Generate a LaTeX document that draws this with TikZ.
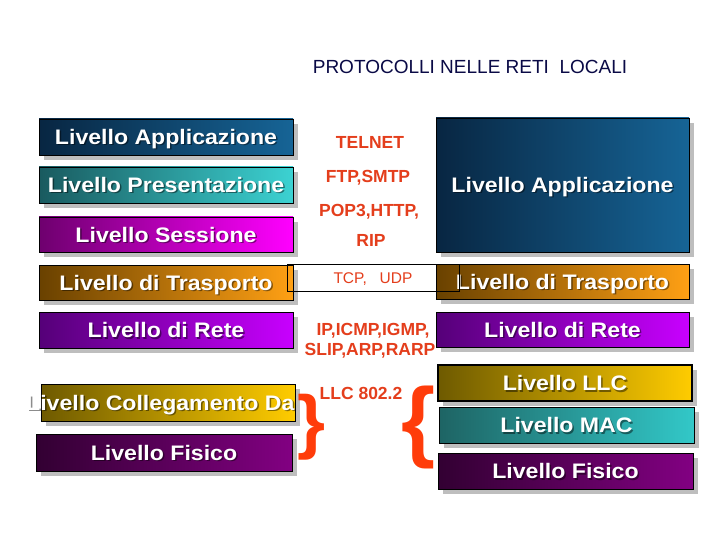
\documentclass[tikz,border=0pt]{standalone}
\usepackage{fontspec}
\setmainfont{Liberation Sans}
\newfontfamily\boxfont{Liberation Sans}[FakeStretch=1.1]
\definecolor{appL}{RGB}{8,38,66}\definecolor{appR}{RGB}{22,100,150}
\definecolor{preL}{RGB}{25,90,95}\definecolor{preR}{RGB}{60,210,210}
\definecolor{sesL}{RGB}{110,0,110}\definecolor{sesR}{RGB}{255,0,255}
\definecolor{traL}{RGB}{105,65,0}\definecolor{traR}{RGB}{255,160,20}
\definecolor{retL}{RGB}{85,0,120}\definecolor{retR}{RGB}{200,0,255}
\definecolor{colL}{RGB}{110,90,0}\definecolor{colR}{RGB}{255,204,0}
\definecolor{fisL}{RGB}{50,0,50}\definecolor{fisR}{RGB}{130,0,130}
\definecolor{macL}{RGB}{30,100,100}\definecolor{macR}{RGB}{50,200,200}
\definecolor{proto}{RGB}{228,62,28}
\definecolor{bracec}{RGB}{255,60,10}
\definecolor{titlec}{RGB}{10,10,70}
\definecolor{shadowc}{RGB}{190,190,190}
\tikzset{
  layerbox/.style={draw=black, line width=0.9pt, inner sep=0, outer sep=0},
  boxtxt/.style={inner sep=0, text=white, font=\boxfont\fontsize{21}{25}\selectfont\bfseries, text height=15, text depth=0},
  boxshd/.style={boxtxt, text=black, opacity=.45},
  prototxt/.style={inner sep=0, anchor=base, text=proto, font=\fontsize{17.5}{21}\selectfont\bfseries},
}
% name, x1, y1, x2, y2, left colour, right colour, text, extra options
\newcommand\mylayer[9]{%
  \fill[shadowc] ({#2+5},{#3+5}) rectangle ({#4+5},{#5+5});
  \node[layerbox, minimum width={#4-#2}, minimum height={#5-#3}, left color=#6, right color=#7, #9] (#1) at ({(#2+#4)/2},{(#3+#5)/2}) {};
  \node[boxshd] (#1s) at ([shift={(1.5,1.5)}]#1.center) {#8};
  \node[boxtxt] (#1t) at (#1.center) {#8};
}
\begin{document}
\begin{tikzpicture}[x=1pt,y=-1pt]
\useasboundingbox (0,0) rectangle (720,540);
\fill[white] (0,0) rectangle (720,540);

\node[inner sep=0, anchor=base, text=titlec, font=\fontsize{19}{23}\selectfont] (title) at (470,74) {PROTOCOLLI NELLE RETI\ \ LOCALI};

% left stack
\mylayer{lapp}{39}{119}{293}{155}{appL}{appR}{Livello Applicazione}{}
\mylayer{lpre}{39}{167}{293}{203}{preL}{preR}{Livello Presentazione}{}
\mylayer{lses}{39}{217}{293}{252}{sesL}{sesR}{Livello Sessione}{}
\mylayer{ltra}{39}{265}{293}{300}{traL}{traR}{Livello di Trasporto}{}
\mylayer{lret}{39}{312}{293}{348}{retL}{retR}{Livello di Rete}{}
\fill[shadowc] (46,389) rectangle (300,426);
\node[layerbox, minimum width=254, minimum height=37, left color=colL, right color=colR] (lcol) at (168,402.5) {};
\begin{scope}
  \clip (0,370) rectangle (297,430);
  \node[boxshd, anchor=west] (lcols) at (27.5,404) {Livello Collegamento Da};
  \node[boxtxt, anchor=west] (lcolt) at (26,402.5) {Livello Collegamento Da};
\end{scope}
\mylayer{lfis}{36}{434}{292}{471}{fisL}{fisR}{Livello Fisico}{}

% right stack
\mylayer{rapp}{436}{118}{689}{252}{appL}{appR}{Livello Applicazione}{}
\mylayer{rtra}{436}{264}{689}{299}{traL}{traR}{Livello di Trasporto}{}
\mylayer{rret}{436}{312}{689}{347}{retL}{retR}{Livello di Rete}{}
\mylayer{rllc}{438}{365}{692}{401}{colL}{colR}{Livello LLC}{line width=2pt}
\mylayer{rmac}{439}{407}{694}{443}{macL}{macR}{Livello MAC}{}
\mylayer{rfis}{438}{453}{693}{489}{fisL}{fisR}{Livello Fisico}{}

% protocols
\node[prototxt] (telnet) at (370,149) {TELNET};
\node[prototxt] (ftp) at (368,183) {FTP,SMTP};
\node[prototxt] (pop) at (369,216) {POP3,HTTP,};
\node[prototxt] (rip) at (371,246) {RIP};
\node[prototxt, font=\fontsize{15.5}{19}\selectfont] (tcp) at (373,283) {TCP,\ \ \ UDP};
\node[prototxt] (ip) at (373,335) {IP,ICMP,IGMP,};
\node[prototxt] (slip) at (370,355) {SLIP,ARP,RARP};
\node[prototxt] (llc) at (361,399) {LLC 802.2};

% TCP/UDP frame
\draw[line width=0.9pt] (287,264) rectangle (459,291);

% braces
\node[inner sep=0, text=bracec] (rbrace) at (311,427) {\resizebox*{28pt}{66pt}{\bfseries\}}};
\node[inner sep=0, text=bracec] (lbrace) at (418,427.5) {\resizebox*{34pt}{83pt}{\bfseries\{}};
\end{tikzpicture}
\end{document}
